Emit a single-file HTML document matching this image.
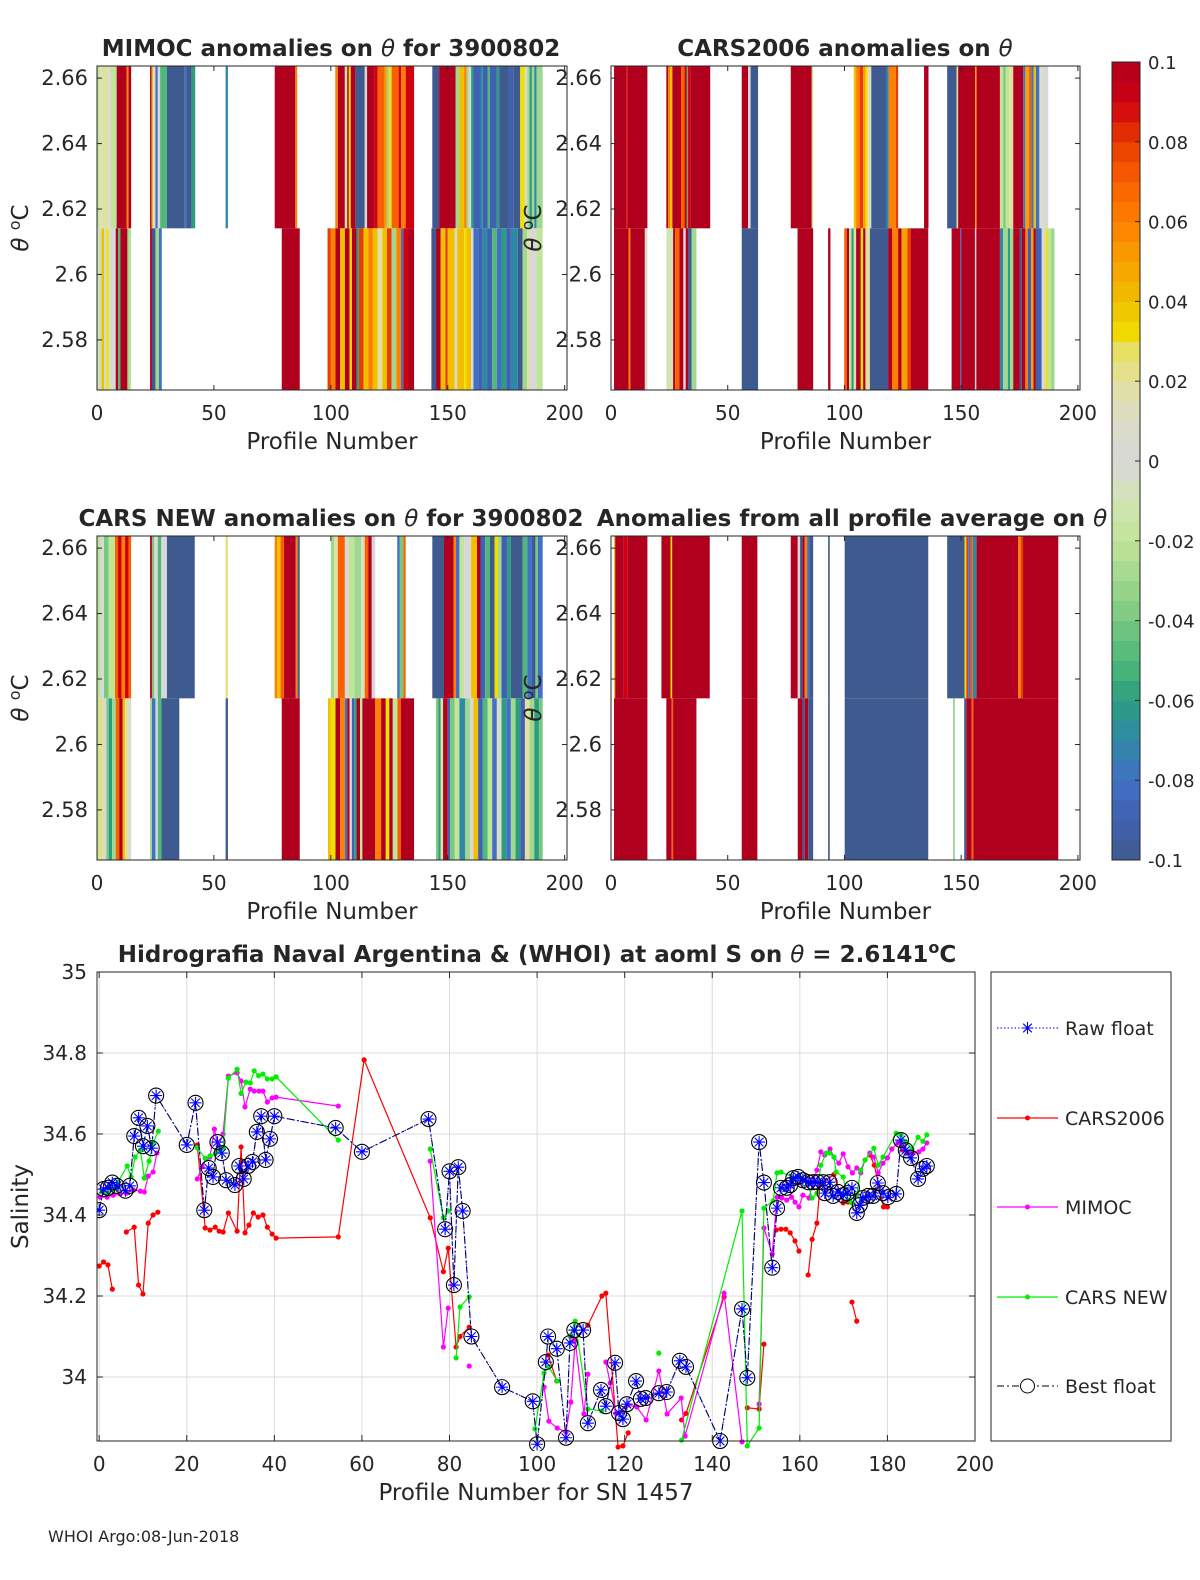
<!DOCTYPE html>
<html><head><meta charset="utf-8">
<style>
html,body{margin:0;padding:0;background:#fff;overflow:hidden;}
svg text{font-family:"DejaVu Sans","Liberation Sans",sans-serif;fill:#262626;}
</style></head>
<body>
<svg id="fig" xmlns="http://www.w3.org/2000/svg" width="1200" height="1575" viewBox="0 0 1200 1575"></svg>
<script>
// ---------- heatmap data: [fromProfile, toProfile, anomaly] ----------
const mimocTop=[[0,1,-0.02],[1,2,0.02],[2,3,-0.01],[3,5,0.02],[5,6,0],[6,8.4,-0.02],[8.4,12.7,0.1],[12.7,13.5,0.06],[13.5,14.6,0.1],[22.7,23.3,0.1],[23.3,24,0.04],[24,25,0],[25,26,-0.08],[26,27,0],[27,29.9,-0.05],[29.9,37.5,-0.1],[37.5,38.3,-0.08],[38.3,40.5,-0.1],[40.5,42,-0.06],[55,56,-0.07],[76,84.8,0.1],[84.8,85.6,0.06],[101.9,103,0.06],[103,106,0.1],[106,107,0.02],[107,107.7,0.1],[107.7,108.5,0.03],[108.5,110.5,0.1],[110.5,114.5,-0.1],[114.5,115.5,0],[115.5,118.5,0.1],[118.5,120,0.09],[120,123,0.07],[123,124,0.05],[124,125,-0.03],[125,126,0.03],[126,129,0.07],[129,130,0.09],[130,132,0.06],[132,135.6,0.09],[143.4,146.3,-0.1],[146.3,153.4,0.1],[153.4,155,-0.03],[155,157,0.04],[157,158,0.06],[158,159,-0.03],[159,160,0],[160,161,-0.06],[161,164,-0.09],[164,165,-0.07],[165,167,-0.09],[167,168,-0.05],[168,171,-0.09],[171,172,-0.06],[172,176,-0.1],[176,178,-0.09],[178,181,-0.1],[181,183,0.03],[183,184,0],[184,185,-0.03],[185,186,-0.06],[186,187,-0.03],[187,188,-0.07],[188,190.6,-0.03]];
const mimocBot=[[0,1,0.01],[1,2,-0.02],[2,3,0.04],[3,4,0],[4,5,0.03],[5,6,-0.01],[6,8,0],[8,9,0.1],[9,10,-0.05],[10,13,0.1],[13,14,-0.03],[14,14.6,-0.02],[22.7,23.5,0.1],[23.5,25,-0.1],[25,26.5,-0.03],[26.5,27.7,-0.08],[79,86.7,0.1],[98.6,100,0.08],[100,102,0.06],[102,104,0.1],[104,106,0.04],[106,108,0.1],[108,109,0.03],[109,111,0.1],[111,112,-0.06],[112,114,0.08],[114,116,0.04],[116,118,0.06],[118,120,0.04],[120,122,0.02],[122,124,0.04],[124,126,0.08],[126,128,-0.03],[128,130,0.06],[130,131,-0.08],[131,133,0.09],[133,135.6,0.1],[143,145,-0.1],[145,147,0.1],[147,149,0.04],[149,150,0.08],[150,153,0.04],[153,154,0],[154,157,0.04],[157,158,0.03],[158,160,0.04],[160,161,0],[161,163,-0.08],[163,165,-0.09],[165,167,-0.07],[167,169,-0.09],[169,171,-0.05],[171,173,-0.08],[173,175,-0.06],[175,177,-0.09],[177,180,-0.07],[180,182,-0.1],[182,184,-0.03],[184,185,0.02],[185,188,0],[188,190.6,-0.02]];
const cars06Top=[[1.3,6.5,0.1],[6.5,7.2,0.09],[7.2,15.6,0.1],[23.7,24.5,0.1],[24.5,25.3,0.06],[25.3,26.3,0.04],[26.3,30,0.1],[30,31.5,0.07],[31.5,32.5,0.09],[32.5,33,-0.05],[33,34,0.09],[34,42.5,0.1],[56,58.7,0.1],[58.7,59.8,0],[59.8,63,-0.1],[77,86,0.1],[86,86.6,-0.02],[104,105,0.04],[105,106.5,0.06],[106.5,108,0.08],[108,109,0.05],[109,110,0.03],[110,111.5,0.01],[111.5,118,-0.1],[118,119,-0.07],[119,122,0.06],[122,123,0.08],[134.1,136,0.1],[144,148,-0.1],[148,148.7,0.02],[148.7,156,0.1],[156,156.6,0.05],[156.6,166.6,0.1],[166.6,168,-0.02],[168,169,-0.04],[169,170.5,-0.02],[170.5,172.3,0.02],[172.3,176.6,0.1],[176.6,177.5,-0.08],[177.5,179,0.05],[179,180,0.07],[180,181,-0.08],[181,182,0.04],[182,183.5,-0.08],[183.5,184.5,0.01],[184.5,187.3,0]];
const cars06Bot=[[1.3,7.5,0.1],[7.5,8.3,0.06],[8.3,14.5,0.1],[14.5,15.6,0.01],[23.7,26.6,-0.01],[26.6,27.5,0.1],[27.5,29.3,0.07],[29.3,31,0.1],[31,32,0],[32,33,0.1],[33,34.5,-0.1],[34.5,36.6,-0.03],[56,63,-0.1],[79.9,86.6,0.1],[93,94,0.1],[99.9,101,0.07],[101,102,0.1],[102,103,-0.02],[103,104,-0.06],[104,105,0.02],[105,107,0.1],[107,108,0.03],[108,109,0.1],[109,110.9,0.02],[110.9,118.7,-0.1],[118.7,120.5,0.1],[120.5,123,0.06],[123,124.5,0.1],[124.5,127,0.05],[127,128.5,0.08],[128.5,135.9,0.1],[145.9,149.5,0.1],[149.5,150,-0.08],[150,155.9,0.1],[155.9,156.5,0],[156.5,166.6,0.1],[166.6,168,-0.07],[168,170,-0.03],[170,171,-0.06],[171,172.3,-0.03],[172.3,175,0.1],[175,176,-0.1],[176,177.5,0.1],[177.5,178.5,0.06],[178.5,180,-0.09],[180,181,0.05],[181,182,0.1],[182,184.5,-0.09],[184.5,186,0],[186,187,0.03],[187,188.5,-0.02],[188.5,190,-0.03]];
const carsNewTop=[[0,1.5,-0.02],[1.5,3,0],[3,5,-0.04],[5,7.7,-0.02],[7.7,9,0.07],[9,10.5,0.09],[10.5,12,0.06],[12,13.5,0.09],[13.5,14.6,0.07],[22.7,23.5,0.1],[23.5,24.5,-0.04],[24.5,26,0],[26,27.5,-0.05],[27.5,29.9,0],[29.9,41.8,-0.1],[55,56,0.025],[76,77,0.06],[77,78.5,0.04],[78.5,80,0.07],[80,85,0.1],[85,85.8,0.06],[85.8,86.7,-0.1],[100,101.5,-0.03],[101.5,103,0.02],[103,106,0.07],[106,107.5,0],[107.5,110,-0.02],[110,113,-0.03],[113,114.5,0.01],[114.5,116,0.07],[116,117.5,0.1],[117.5,119,0],[128.4,129.5,-0.08],[129.5,131,-0.04],[131,132,0.07],[143.4,148.4,-0.1],[148.4,152.5,0.1],[152.5,153.5,0.06],[153.5,155,-0.08],[155,157,-0.02],[157,160,0],[160,162.5,0.04],[162.5,164,0.1],[164,166,-0.09],[166,168,-0.05],[168,170,-0.1],[170,171.5,0.03],[171.5,173,-0.03],[173,175.5,-0.09],[175.5,177,-0.06],[177,182,-0.1],[182,184,-0.05],[184,186,-0.08],[186,187.5,-0.1],[187.5,188.5,-0.04],[188.5,190.6,-0.08]];
const carsNewBot=[[0,1,-0.02],[1,2.5,0.025],[2.5,4,0],[4,5,-0.04],[5,6.5,-0.06],[6.5,8,-0.03],[8,9.5,0.07],[9.5,11,0.1],[11,12,0.04],[12,13.5,0.02],[13.5,14.6,0],[22.7,23.5,-0.03],[23.5,25,-0.08],[25,26,0],[26,27.6,-0.05],[27.6,35.2,-0.1],[55,56,-0.1],[79,86.7,0.1],[98.8,100,0.04],[100,102,0.03],[102,104,0.1],[104,106,0.06],[106,107,-0.08],[107,108,0.1],[108,109,0],[109,110,-0.09],[110,111,-0.06],[111,112.5,0.1],[112.5,113.5,-0.02],[113.5,119,0.1],[119,121.5,0.06],[121.5,123.5,0.1],[123.5,125,0.03],[125,126.5,0.1],[126.5,128.5,-0.02],[128.5,130,0.07],[130,135.6,0.1],[145,146,-0.04],[146,147,-0.06],[147,148,0.02],[148,150,0.1],[150,151,-0.09],[151,153,-0.04],[153,155,-0.02],[155,157.5,-0.07],[157.5,159.5,-0.03],[159.5,161,0],[161,163,0.04],[163,165,-0.09],[165,167,-0.05],[167,169,-0.02],[169,171,-0.08],[171,173,0.01],[173,175,-0.06],[175,177,-0.08],[177,179,-0.03],[179,181,-0.06],[181,183,-0.09],[183,185,0.02],[185,187,-0.03],[187,189,-0.06],[189,190.6,-0.04]];
const avgTop=[[1.3,1.8,0.04],[1.8,5.5,0.1],[5.5,7,0.09],[7,15.6,0.1],[21.6,25.5,0.1],[25.5,26.2,0.03],[26.2,42.3,0.1],[56,62.7,0.1],[77,80,0.1],[80,81,0],[81,82,-0.1],[82,83,0.1],[83,84,0.06],[84,85,-0.08],[85,86.6,-0.1],[93,93.7,-0.1],[100.1,135.9,-0.1],[144,151.5,-0.1],[151.5,152.2,0.03],[152.2,153,0.08],[153,154,-0.08],[154,155,0.07],[155,156.6,-0.07],[156.6,174.4,0.1],[174.4,175.5,0.06],[175.5,176.5,0.08],[176.5,191.6,0.1]];
const avgBot=[[1.3,15.6,0.1],[23.7,26,0.1],[26,26.6,0.07],[26.6,36.6,0.1],[56,62.7,0.1],[80,82,0.1],[82,83,-0.1],[83,84.5,0.1],[84.5,86.6,-0.1],[93,93.7,-0.1],[100.1,135.9,-0.1],[146.6,147.2,-0.04],[151.3,152.2,-0.1],[152.2,154.5,0.1],[154.5,155.2,0.07],[155.2,191.6,0.1]];
const thetaSplit=2.6141;
const thetaTicks=[2.58,2.6,2.62,2.64,2.66];
const profileTicks=[0,50,100,150,200];
const cbTicks=[-0.1,-0.08,-0.06,-0.04,-0.02,0,0.02,0.04,0.06,0.08,0.1];

// ---------- salinity data: [profile, salinity], null = gap ----------
const bestP=[0,1,2,3,4,6,7,8,9,10,11,12,13,20,22,24,25,26,27,28,29,31,32,33,34,35,36,37,38,39,40,54,60,75.2,79,80,81,82,83,85,92,99,100,102,102.5,104.5,106.6,107.5,108.5,110.5,111.6,114.6,115.7,117.8,118.7,119.6,120.5,122.6,123.7,124.8,127.8,129.6,132.6,134,141.8,146.8,148,150.7,151.8,153.7,154.8,155.7,157,157.8,158.5,159.6,160.7,161.9,163,164.1,165.3,165.7,166.8,167.6,168.7,169.9,170.8,171.9,173,173.7,174.4,175.6,176.7,177.8,179,180.1,182,183.1,184.2,185.4,187,188.1,189];
const bestS=[34.412,34.464,34.467,34.48,34.472,34.46,34.472,34.595,34.64,34.57,34.62,34.565,34.695,34.573,34.677,34.412,34.516,34.494,34.58,34.553,34.486,34.474,34.521,34.489,34.521,34.531,34.605,34.644,34.536,34.588,34.644,34.615,34.556,34.637,34.365,34.508,34.227,34.518,34.41,34.1,33.975,33.94,33.834,34.037,34.1,34.07,33.85,34.084,34.116,34.116,33.886,33.968,33.928,34.035,33.911,33.896,33.933,33.99,33.946,33.948,33.96,33.963,34.04,34.025,33.842,34.168,33.998,34.58,34.48,34.27,34.417,34.467,34.467,34.474,34.491,34.494,34.486,34.481,34.481,34.481,34.481,34.454,34.481,34.447,34.457,34.449,34.454,34.467,34.405,34.425,34.442,34.447,34.447,34.479,34.454,34.444,34.452,34.585,34.56,34.541,34.489,34.514,34.521];
const rawS=[34.412,34.464,34.467,34.48,34.472,34.46,34.472,34.595,34.64,34.57,34.62,34.565,34.695,34.573,34.677,34.412,34.516,34.494,34.58,34.553,34.486,34.474,34.521,34.489,34.521,34.531,34.605,34.644,34.536,34.588,34.644,34.615,34.556,34.637,34.365,34.508,34.227,34.518,34.41,34.1,33.975,33.94,33.834,34.037,34.1,34.07,33.85,34.084,34.116,34.116,33.886,33.968,33.928,34.035,33.911,33.896,33.933,33.99,33.946,33.948,33.96,33.963,34.04,34.025,33.842,34.168,33.998,34.58,34.48,34.27,34.417,34.467,34.467,34.474,34.491,34.494,34.486,34.481,34.481,34.481,34.481,34.454,34.481,34.447,34.457,34.449,34.454,34.467,34.405,34.425,34.442,34.447,34.447,34.479,34.454,34.444,34.452,34.585,34.56,34.541,34.489,34.514,34.521];
const cars2006Pts=[[0,34.274],[1,34.284],[2,34.277],[3,34.217],null,[6.2,34.358],[8,34.37],[9,34.227],[10,34.205],[11.2,34.38],[12.3,34.4],[13.4,34.407],null,[22.4,34.573],[24.2,34.368],[25.3,34.363],[26.5,34.37],[27.4,34.36],[28.3,34.358],[29.5,34.405],[31.5,34.36],[32.4,34.568],[33.3,34.356],[34.2,34.375],[35.2,34.405],[36.3,34.395],[37.4,34.4],[38.4,34.37],[39.5,34.353],[40.4,34.343],[54.6,34.346],[60.5,34.783],[75.6,34.393],[78.6,34.26],[79.7,34.318],[81.5,34.074],[82.4,34.1],[84.5,34.123],null,[102.5,34.054],[104.5,33.99],null,[108.4,34.09],[111.6,34.128],[114.8,34.2],[115.7,34.207],[118.5,33.827],[119.6,33.83],[120.8,33.862],null,[133,33.894],[134,33.91],[142.7,34.198],null,[148,33.924],[150.7,33.921],[151.8,34.081],null,[154.6,34.363],[155.7,34.365],[156.8,34.365],[157.8,34.356],[158.9,34.336],[159.8,34.311],null,[161.9,34.252],[162.8,34.34],[163.9,34.38],[164.6,34.474],[167.8,34.5],[169.9,34.43],[171,34.432],null,[176,34.548],[177,34.523],[179.1,34.42],[180,34.42],null,[171.9,34.185],[173,34.138],null,[182.4,34.578],[183.6,34.56],[184.7,34.553]];
const mimocPts=[[0.2,34.444],[1.8,34.444],[3.2,34.449],[4.8,34.452],[6.2,34.454],[7.8,34.462],[9.4,34.459],[10.3,34.457],[11.2,34.496],[12.3,34.506],[13.2,34.553],null,[22.4,34.489],[23.5,34.519],[24.4,34.538],[25.3,34.543],[26.3,34.612],[27.2,34.568],[28.3,34.6],[29.5,34.743],[31.5,34.751],[32.4,34.731],[33.3,34.667],[34.5,34.711],[35.4,34.706],[36.5,34.706],[37.4,34.706],[38.4,34.679],[39.5,34.689],[40.4,34.691],[54.6,34.669],null,[75.6,34.533],[78.6,34.074],[79.7,34.17],null,[84.5,34.027],null,[101.6,33.975],[102.7,33.891],[104.6,33.874],[106.6,33.864],[107.7,33.938],[108.7,34.09],[110.7,33.909],[111.6,34.007],null,[115.7,34.037],[116.7,33.985],[118,33.91],[120.8,33.931],[122.8,33.926],[124.9,33.894],[127.8,34.015],[129.7,33.909],[132.9,33.948],[133.8,33.854],[142.7,34.207],[146.8,33.84],null,[150.7,33.933],[151.8,34.368],[153.7,34.304],[154.8,34.444],[155.9,34.442],[157,34.437],[158.1,34.444],[158.9,34.432],[159.8,34.42],[160.7,34.449],[162.1,34.442],[163,34.481],[163.9,34.511],[164.8,34.556],[165.7,34.548],[166.9,34.563],[167.8,34.543],[168.9,34.528],[169.9,34.551],[171,34.519],[172,34.504],[173,34.516],[173.9,34.504],[174.9,34.536],[176,34.553],[176.9,34.543],[177.9,34.504],[179,34.528],[180,34.541],[181,34.563],[182.4,34.578],[183.6,34.568],[184.7,34.556],[185.8,34.553],[187.2,34.556],[188.1,34.563],[189,34.578]];
const carsNewPts=[[0.7,34.457],[1.8,34.454],[3.2,34.464],[4.3,34.481],[6.4,34.521],[7.3,34.494],[8.2,34.543],[9.4,34.56],[10.3,34.491],[11.4,34.533],[12.3,34.578],[13.5,34.607],null,[22.4,34.566],[24.2,34.54],[25.3,34.546],[26.5,34.551],[27.4,34.56],[28.3,34.566],[29.5,34.738],[31.5,34.76],[32.4,34.7],[33.5,34.728],[34.5,34.726],[35.4,34.756],[36.4,34.744],[37.4,34.748],[38.4,34.736],[39.5,34.736],[40.4,34.741],[54.6,34.585],null,[75.6,34.563],[78.6,34.393],[79.7,34.41],null,[81.5,34.047],[82.4,34.173],[84.5,34.198],null,[99.5,33.872],[101.6,34.01],[102.7,34.025],[104.6,33.99],null,[107.5,34.101],[108.7,34.138],[111.6,33.921],[114.8,33.916],null,[127.8,34.059],null,[133,33.844],[146.8,34.41],[148,33.83],[150.7,33.874],[151.8,34.417],[153.9,34.435],[154.8,34.504],[155.7,34.506],[158.2,34.494],[159.3,34.494],[160.4,34.491],[161.7,34.481],[162.8,34.442],[163.9,34.454],[164.8,34.523],[166,34.553],[166.9,34.553],[167.8,34.543],[168.3,34.506],[169.9,34.494],[171,34.437],[171.9,34.43],[173,34.449],[173.9,34.511],[174.9,34.536],[176.9,34.565],[177.9,34.523],[179,34.543],[182,34.602],[183.1,34.598],[184.2,34.58],[185.6,34.563],[187,34.592],[188.1,34.582],[189,34.598]];
const salXTicks=[0,20,40,60,80,100,120,140,160,180,200];
const salYTicks=[34,34.2,34.4,34.6,34.8,35];
const salYLabels=["34","34.2","34.4","34.6","34.8","35"];

// ---------- helpers ----------
const NS="http://www.w3.org/2000/svg";
const fig=document.getElementById('fig');
function mk(tag,attrs,parent){const e=document.createElementNS(NS,tag);for(const k in attrs)e.setAttribute(k,attrs[k]);(parent||fig).appendChild(e);return e;}
function txt(s,attrs,parent){const e=mk('text',attrs,parent);e.textContent=s;return e;}
const stops=[[-0.1,[62,90,142]],[-0.09,[64,96,176]],[-0.08,[66,112,196]],[-0.07,[48,136,168]],[-0.06,[44,158,128]],[-0.05,[80,184,120]],[-0.04,[120,200,128]],[-0.03,[160,216,144]],[-0.02,[192,228,152]],[-0.01,[210,228,180]],[0,[216,216,216]],[0.01,[220,220,200]],[0.02,[226,224,160]],[0.028,[232,224,96]],[0.03,[240,224,0]],[0.04,[240,192,0]],[0.05,[248,160,0]],[0.06,[255,128,0]],[0.07,[248,96,0]],[0.08,[232,60,0]],[0.09,[208,0,16]],[0.1,[176,0,30]]];
function cmap(v){v=Math.max(-0.1,Math.min(0.1,v));for(let i=0;i<stops.length-1;i++){const a=stops[i],b=stops[i+1];if(v<=b[0]){const t=(v-a[0])/(b[0]-a[0]);const c=a[1].map((x,j)=>Math.round(x+(b[1][j]-x)*t));return `rgb(${c[0]},${c[1]},${c[2]})`;}}return 'rgb(176,0,30)';}

// ---------- heatmap panels ----------
function panel(name,L,T,R,B,xMax,top,bot,title,titleX,ylabX){
  const g=mk('g',{});
  
  
  const yMin=2.5647,yMax=2.6637;
  const xs=p=>L+p/xMax*(R-L);
  const ys=t=>B-(t-yMin)/(yMax-yMin)*(B-T);
  const clipId='clip-'+name;
  const cp=mk('clipPath',{id:clipId},g);mk('rect',{x:L,y:T,width:R-L,height:B-T},cp);
  const hg=mk('g',{'clip-path':`url(#${clipId})`},g);
  top.forEach(s=>{const r=mk('rect',{x:xs(s[0]),y:ys(yMax),width:Math.max(0.6,xs(s[1])-xs(s[0])),height:ys(thetaSplit)-ys(yMax),fill:cmap(s[2])},hg);
    
    });
  bot.forEach(s=>{const r=mk('rect',{x:xs(s[0]),y:ys(thetaSplit),width:Math.max(0.6,xs(s[1])-xs(s[0])),height:ys(yMin)-ys(thetaSplit),fill:cmap(s[2])},hg);
    
    });
  mk('rect',{x:L,y:T,width:R-L,height:B-T,fill:'none',stroke:'#262626','stroke-width':1},g);
  thetaTicks.forEach(t=>{const y=ys(t);mk('line',{x1:L,x2:L+5,y1:y,y2:y,stroke:'#262626'},g);mk('line',{x1:R,x2:R-5,y1:y,y2:y,stroke:'#262626'},g);
    const l=txt(String(t),{x:L-9,y:y+7,'font-size':21,'text-anchor':'end'},g);
    
    });
  profileTicks.forEach(p=>{const x=xs(p);mk('line',{x1:x,x2:x,y1:B,y2:B-5,stroke:'#262626'},g);mk('line',{x1:x,x2:x,y1:T,y2:T+5,stroke:'#262626'},g);
    const l=txt(String(p),{x:x,y:B+30,'font-size':20,'text-anchor':'middle'},g);
    
    });
  const xl=txt('Profile Number',{x:(L+R)/2,y:B+59,'font-size':23,'text-anchor':'middle'},g);
  
  
  const yl=mk('text',{x:0,y:0,'font-size':23,'text-anchor':'middle',transform:`translate(${ylabX},${(T+B)/2}) rotate(-90)`},g);
  yl.innerHTML='<tspan font-style="italic">θ</tspan> <tspan dy="-8" font-size="16">o</tspan><tspan dy="8">C</tspan>';
  
  
  const tt=mk('text',{x:titleX,y:T-10,'font-size':23,'font-weight':'bold','text-anchor':'middle'},g);
  tt.innerHTML=title;
  
  
}
panel('mimoc-panel',97,66,567,390,201,mimocTop,mimocBot,'MIMOC anomalies on <tspan font-style="italic" font-weight="normal">θ</tspan>  for 3900802',331,28);
panel('cars2006-panel',611,66,1080,390,200.9,cars06Top,cars06Bot,'CARS2006 anomalies on <tspan font-style="italic" font-weight="normal">θ</tspan>',845,541);
panel('cars-new-panel',97,536,567,860,201,carsNewTop,carsNewBot,'CARS NEW anomalies on <tspan font-style="italic" font-weight="normal">θ</tspan> for 3900802',331,28);
panel('all-average-panel',611,536,1080,860,200.9,avgTop,avgBot,'Anomalies from all profile average on <tspan font-style="italic" font-weight="normal">θ</tspan>',852,541);

// ---------- colorbar ----------
(function(){
  const g=mk('g',{});
  
  
  const L=1112,R=1140,T=62,B=860;const cy=v=>B-(v+0.1)/0.2*(B-T);
  const n=40;
  for(let i=0;i<n;i++){const v0=-0.1+i*0.2/n,v1=v0+0.2/n;const r=mk('rect',{x:L,y:cy(v1),width:R-L,height:cy(v0)-cy(v1)+0.5,fill:cmap((v0+v1)/2)},g);
    
    }
  mk('rect',{x:L,y:T,width:R-L,height:B-T,fill:'none',stroke:'#262626'},g);
  cbTicks.forEach(v=>{const y=cy(v);mk('line',{x1:R,x2:R-5,y1:y,y2:y,stroke:'#262626'},g);
    const l=txt(Math.abs(v)<1e-9?'0':String(+v.toFixed(2)),{x:R+8,y:y+7,'font-size':18},g);
    
    });
})();

// ---------- salinity chart ----------
(function(){
  const g=mk('g',{});
  
  
  const L=97,R=975,T=972,B=1441,xMin=-0.5,xMax=200,yMin=33.842,yMax=35;
  const xs=p=>L+(p-xMin)/(xMax-xMin)*(R-L);
  const ys=s=>B-(s-yMin)/(yMax-yMin)*(B-T);
  salXTicks.forEach(p=>{mk('line',{x1:xs(p),x2:xs(p),y1:T,y2:B,stroke:'#dcdcdc'},g);});
  salYTicks.forEach(s=>{mk('line',{x1:L,x2:R,y1:ys(s),y2:ys(s),stroke:'#dcdcdc'},g);});
  const clip=mk('clipPath',{id:'salclip'},g);mk('rect',{x:L,y:T-10,width:R-L+10,height:B-T+20},clip);
  const pg=mk('g',{'clip-path':'url(#salclip)'},g);
  function pathOf(pts){let d='',pen=false;pts.forEach(q=>{if(!q){pen=false;return;}d+=(pen?'L':'M')+xs(q[0]).toFixed(1)+' '+ys(q[1]).toFixed(1);pen=true;});return d;}
  function series(name,pts,color){
    const sg=mk('g',{},pg);
    
    
    mk('path',{d:pathOf(pts),fill:'none',stroke:color,'stroke-width':1.2},sg);
    pts.forEach(q=>{if(!q)return;const c=mk('circle',{cx:xs(q[0]),cy:ys(q[1]),r:2.6,fill:color},sg);
      
      });
  }
  series('cars2006-series',cars2006Pts,'#ff0000');
  series('mimoc-series',mimocPts,'#ff00ff');
  series('cars-new-series',carsNewPts,'#00ee00');
  const rawPts=bestP.map((p,i)=>[p,rawS[i]]);
  const bestPts=bestP.map((p,i)=>[p,bestS[i]]);
  const bg=mk('g',{},pg);
  
  
  mk('path',{d:pathOf(bestPts),fill:'none',stroke:'#000','stroke-width':1.1,'stroke-dasharray':'7 3 2 3'},bg);
  bestPts.forEach(q=>{const c=mk('circle',{cx:xs(q[0]),cy:ys(q[1]),r:7.5,fill:'none',stroke:'#000','stroke-width':1.1},bg);
    
    });
  const rg=mk('g',{},pg);
  
  
  mk('path',{d:pathOf(rawPts),fill:'none',stroke:'#0000ff','stroke-width':1,'stroke-dasharray':'1.5 2'},rg);
  rawPts.forEach(q=>{const x=xs(q[0]),y=ys(q[1]),s=6;
    const a=mk('path',{d:`M${x-s} ${y}H${x+s}M${x} ${y-s}V${y+s}M${x-4.3} ${y-4.3}L${x+4.3} ${y+4.3}M${x-4.3} ${y+4.3}L${x+4.3} ${y-4.3}`,stroke:'#0000ff','stroke-width':1.1},rg);
    
    });
  mk('rect',{x:L,y:T,width:R-L,height:B-T,fill:'none',stroke:'#262626'},g);
  salXTicks.forEach(p=>{const x=xs(p);mk('line',{x1:x,x2:x,y1:B,y2:B-6,stroke:'#262626'},g);mk('line',{x1:x,x2:x,y1:T,y2:T+6,stroke:'#262626'},g);
    const l=txt(String(p),{x:x,y:B+30,'font-size':20,'text-anchor':'middle'},g);
    
    });
  salYTicks.forEach((s,i)=>{const y=ys(s);mk('line',{x1:L,x2:L+6,y1:y,y2:y,stroke:'#262626'},g);mk('line',{x1:R,x2:R-6,y1:y,y2:y,stroke:'#262626'},g);
    const l=txt(salYLabels[i],{x:L-10,y:y+7,'font-size':20,'text-anchor':'end'},g);
    
    });
  const xt=txt('Profile Number for SN 1457',{x:(L+R)/2,y:B+59,'font-size':23,'text-anchor':'middle'},g);
  
  
  const yt=txt('Salinity',{x:0,y:0,'font-size':23,'text-anchor':'middle',transform:`translate(28,${(T+B)/2}) rotate(-90)`},g);
  
  
  const tt=mk('text',{x:537,y:962,'font-size':23,'font-weight':'bold','text-anchor':'middle'},g);
  tt.innerHTML='Hidrografia Naval Argentina &amp; (WHOI) at aoml S on <tspan font-style="italic" font-weight="normal">θ</tspan> = 2.6141<tspan dy="-9" font-size="16">o</tspan><tspan dy="9">C</tspan>';
  
  

  // legend
  const lg=mk('g',{});
  
  
  mk('rect',{x:991,y:972,width:180,height:469,fill:'#fff',stroke:'#262626'},lg);
  const entries=[['Raw float','raw'],['CARS2006','#ff0000'],['MIMOC','#ff00ff'],['CARS NEW','#00ee00'],['Best float','best']];
  const ey=[1028,1118,1207,1297,1386];
  entries.forEach((e,i)=>{const y=ey[i];const eg=mk('g',{},lg);
    
    
    if(e[1]==='raw'){mk('line',{x1:997,x2:1058,y1:y,y2:y,stroke:'#0000ff','stroke-dasharray':'1.5 2'},eg);
      const x=1027.5;mk('path',{d:`M${x-6} ${y}H${x+6}M${x} ${y-6}V${y+6}M${x-4.3} ${y-4.3}L${x+4.3} ${y+4.3}M${x-4.3} ${y+4.3}L${x+4.3} ${y-4.3}`,stroke:'#0000ff','stroke-width':1.1},eg);}
    else if(e[1]==='best'){mk('line',{x1:997,x2:1058,y1:y,y2:y,stroke:'#000','stroke-dasharray':'7 3 2 3'},eg);mk('circle',{cx:1027.5,cy:y,r:7,fill:'#fff',stroke:'#000'},eg);}
    else{mk('line',{x1:997,x2:1058,y1:y,y2:y,stroke:e[1],'stroke-width':1.2},eg);mk('circle',{cx:1027.5,cy:y,r:2.5,fill:e[1]},eg);}
    txt(e[0],{x:1065,y:y+7,'font-size':19},eg);
  });
})();
const foot=txt('WHOI Argo:08-Jun-2018',{x:48,y:1542,'font-size':16});


</script>
</body></html>
